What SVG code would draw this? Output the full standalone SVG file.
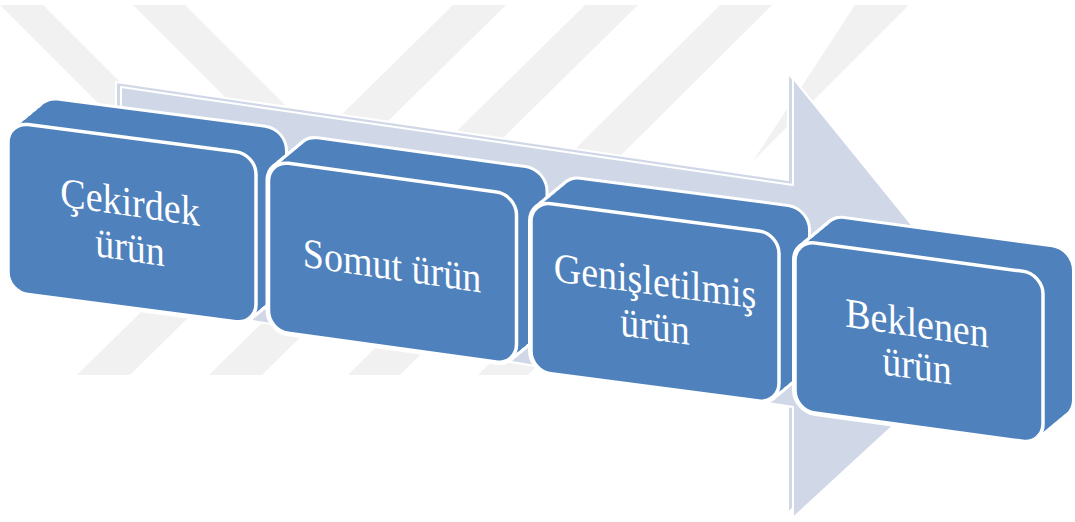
<svg xmlns="http://www.w3.org/2000/svg" xmlns:xlink="http://www.w3.org/1999/xlink" width="1075" height="522" viewBox="0 0 1075 522">
<style>
.wm{fill:#f1f1f1}
.arr{fill:#d0d8e8;stroke:#ffffff;stroke-width:2;stroke-linejoin:round}
.halo use{fill:#ffffff;stroke:#ffffff;stroke-width:6;stroke-linejoin:round}
.body use{fill:#4f81bd}
.front{fill:#4f81bd;stroke:#ffffff;stroke-width:3.5}
.lbl{font-family:"Liberation Serif","Times New Roman",serif;font-size:38px;fill:#ffffff;text-anchor:middle}
</style>
<defs>
<rect id="face" x="0" y="0" width="248" height="170" rx="20" ry="20"/>
<polygon id="arrowShape" points="121,87 793,185 793,78 997,330 793,518 793,407 121,300"/>
</defs>
<rect width="1075" height="522" fill="#ffffff"/>
<g id="watermark">
<polygon class="wm" points="0,5 43,5 288,250 245,250 0,5"/>
<polygon class="wm" points="133,5 185,5 430,250 378,250"/>
<polygon class="wm" points="453,5 506,5 130,375 77,375"/>
<polygon class="wm" points="585,5 638,5 262,375 209,375"/>
<polygon class="wm" points="720,5 772,5 400,375 348,375"/>
<polygon class="wm" points="855,5 909,5 753,161"/>
<polygon class="wm" points="478,375 528,375 700,203 650,203"/>
</g>
<g id="connectors">
<use href="#arrowShape" class="arr" transform="translate(-5,-5)"/>
<use href="#arrowShape" class="arr"/>
</g>
<g id="box1">
<g class="halo">
<use href="#face" transform="matrix(1,0.13,0,1,8,122)"/>
<use href="#face" transform="matrix(1,0.13,0,1,12.83,118)"/>
<use href="#face" transform="matrix(1,0.13,0,1,17.67,114)"/>
<use href="#face" transform="matrix(1,0.13,0,1,22.5,110)"/>
<use href="#face" transform="matrix(1,0.13,0,1,27.33,106)"/>
<use href="#face" transform="matrix(1,0.13,0,1,32.17,102)"/>
<use href="#face" transform="matrix(1,0.13,0,1,37,98)"/>
</g>
<g class="body">
<use href="#face" transform="matrix(1,0.13,0,1,8,122)"/>
<use href="#face" transform="matrix(1,0.13,0,1,12.83,118)"/>
<use href="#face" transform="matrix(1,0.13,0,1,17.67,114)"/>
<use href="#face" transform="matrix(1,0.13,0,1,22.5,110)"/>
<use href="#face" transform="matrix(1,0.13,0,1,27.33,106)"/>
<use href="#face" transform="matrix(1,0.13,0,1,32.17,102)"/>
<use href="#face" transform="matrix(1,0.13,0,1,37,98)"/>
</g>
<use href="#face" class="front" transform="matrix(1,0.13,0,1,8,122)"/>
<text class="lbl" transform="matrix(1,0.145,0,1.1,130,216)"><tspan x="0" y="0">Çekirdek</tspan><tspan x="0" y="41">ürün</tspan></text>
</g>
<g id="box2">
<g class="halo">
<use href="#face" transform="matrix(1,0.138,0,1,268.5,160.6)"/>
<use href="#face" transform="matrix(1,0.138,0,1,273.33,156.6)"/>
<use href="#face" transform="matrix(1,0.138,0,1,278.17,152.6)"/>
<use href="#face" transform="matrix(1,0.138,0,1,283,148.6)"/>
<use href="#face" transform="matrix(1,0.138,0,1,287.83,144.6)"/>
<use href="#face" transform="matrix(1,0.138,0,1,292.67,140.6)"/>
<use href="#face" transform="matrix(1,0.138,0,1,297.5,136.6)"/>
</g>
<g class="body">
<use href="#face" transform="matrix(1,0.138,0,1,268.5,160.6)"/>
<use href="#face" transform="matrix(1,0.138,0,1,273.33,156.6)"/>
<use href="#face" transform="matrix(1,0.138,0,1,278.17,152.6)"/>
<use href="#face" transform="matrix(1,0.138,0,1,283,148.6)"/>
<use href="#face" transform="matrix(1,0.138,0,1,287.83,144.6)"/>
<use href="#face" transform="matrix(1,0.138,0,1,292.67,140.6)"/>
<use href="#face" transform="matrix(1,0.138,0,1,297.5,136.6)"/>
</g>
<use href="#face" class="front" transform="matrix(1,0.138,0,1,268.5,160.6)"/>
<text class="lbl" transform="matrix(1,0.145,0,1.1,392,279.5)"><tspan x="0" y="0">Somut ürün</tspan></text>
</g>
<g id="box3">
<g class="halo">
<use href="#face" transform="matrix(1,0.131,0,1,531,201.1)"/>
<use href="#face" transform="matrix(1,0.131,0,1,535.83,197.1)"/>
<use href="#face" transform="matrix(1,0.131,0,1,540.67,193.1)"/>
<use href="#face" transform="matrix(1,0.131,0,1,545.5,189.1)"/>
<use href="#face" transform="matrix(1,0.131,0,1,550.33,185.1)"/>
<use href="#face" transform="matrix(1,0.131,0,1,555.17,181.1)"/>
<use href="#face" transform="matrix(1,0.131,0,1,560,177.1)"/>
</g>
<g class="body">
<use href="#face" transform="matrix(1,0.131,0,1,531,201.1)"/>
<use href="#face" transform="matrix(1,0.131,0,1,535.83,197.1)"/>
<use href="#face" transform="matrix(1,0.131,0,1,540.67,193.1)"/>
<use href="#face" transform="matrix(1,0.131,0,1,545.5,189.1)"/>
<use href="#face" transform="matrix(1,0.131,0,1,550.33,185.1)"/>
<use href="#face" transform="matrix(1,0.131,0,1,555.17,181.1)"/>
<use href="#face" transform="matrix(1,0.131,0,1,560,177.1)"/>
</g>
<use href="#face" class="front" transform="matrix(1,0.131,0,1,531,201.1)"/>
<text class="lbl" transform="matrix(1,0.135,0,1.1,655,295)"><tspan x="0" y="0">Genişletilmiş</tspan><tspan x="0" y="41">ürün</tspan></text>
</g>
<g id="box4">
<g class="halo">
<use href="#face" transform="matrix(1,0.136,0,1,795,240.3)"/>
<use href="#face" transform="matrix(1,0.136,0,1,799.83,236.3)"/>
<use href="#face" transform="matrix(1,0.136,0,1,804.67,232.3)"/>
<use href="#face" transform="matrix(1,0.136,0,1,809.5,228.3)"/>
<use href="#face" transform="matrix(1,0.136,0,1,814.33,224.3)"/>
<use href="#face" transform="matrix(1,0.136,0,1,819.17,220.3)"/>
<use href="#face" transform="matrix(1,0.136,0,1,824,216.3)"/>
</g>
<g class="body">
<use href="#face" transform="matrix(1,0.136,0,1,795,240.3)"/>
<use href="#face" transform="matrix(1,0.136,0,1,799.83,236.3)"/>
<use href="#face" transform="matrix(1,0.136,0,1,804.67,232.3)"/>
<use href="#face" transform="matrix(1,0.136,0,1,809.5,228.3)"/>
<use href="#face" transform="matrix(1,0.136,0,1,814.33,224.3)"/>
<use href="#face" transform="matrix(1,0.136,0,1,819.17,220.3)"/>
<use href="#face" transform="matrix(1,0.136,0,1,824,216.3)"/>
</g>
<use href="#face" class="front" transform="matrix(1,0.136,0,1,795,240.3)"/>
<text class="lbl" transform="matrix(1,0.145,0,1.1,917,337)"><tspan x="0" y="0">Beklenen</tspan><tspan x="0" y="38.5">ürün</tspan></text>
</g>
</svg>
